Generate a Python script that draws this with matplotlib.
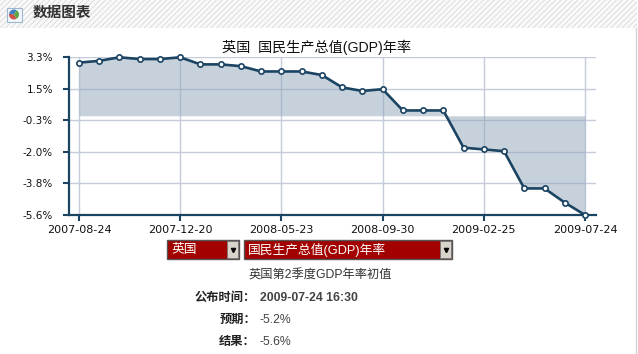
import numpy as np
import matplotlib
matplotlib.use("Agg")
import matplotlib.pyplot as plt
from matplotlib.patches import Rectangle, Wedge

plt.rcParams['font.family'] = ['Liberation Sans', 'Noto Sans CJK SC', 'DejaVu Sans']
plt.rcParams['hatch.linewidth'] = 0.5
plt.rcParams['hatch.color'] = '#d2d2d2'

LINE_COLOR = '#1b4463'
FILL_COLOR = '#8fa5b8'
GRID_COLOR = '#c6cbda'

values = [3.0, 3.1, 3.3, 3.2, 3.2, 3.3, 2.9, 2.9, 2.8, 2.5, 2.5, 2.5, 2.3,
          1.6, 1.4, 1.5, 0.3, 0.3, 0.3, -1.8, -1.9, -2.0, -4.1, -4.1, -4.9, -5.6]
tick_dates = ['2007-08-24', '2007-12-20', '2008-05-23', '2008-09-30', '2009-02-25', '2009-07-24']
tick_idx = [0, 5, 10, 15, 20, 25]
y_labels = ['3.3%', '1.5%', '-0.3%', '-2.0%', '-3.8%', '-5.6%']
y_top = 3.3
y_bottom = -5.6

W, H = 638, 354
fig = plt.figure(figsize=(W / 100, H / 100), dpi=100, facecolor='white')

# overlay in pixel coords, for the page parts around the chart
page = fig.add_axes([0, 0, 1, 1])
page.set_xlim(0, W)
page.set_ylim(H, 0)
page.axis('off')

page.add_patch(Rectangle((0, 0), W - 1, 28, facecolor='#f9f9f9', edgecolor='none'))
page.add_patch(Rectangle((0, 0), W - 1, 28, facecolor='none', edgecolor='#d2d2d2', hatch='//////', lw=0))
page.plot([636, 636], [28, H], color='#d4d4d4', lw=1)

# header icon
page.add_patch(Rectangle((6.5, 7.5), 15, 14, facecolor='#f2f6fb', edgecolor='#9fb8d0', lw=0.8))
icon_parts = [(60, 190, '#d0504a'), (190, 300, '#3f7fc0'), (300, 420, '#5aa845')]
for a, b, col in icon_parts:
    page.add_patch(Wedge((14, 14.5), 5, a, b, facecolor=col, edgecolor='none', transform=page.transData))
page.text(33, 13, '数据图表', fontsize=10.5, fontweight='bold', color='#333333', ha='left', va='center')

page.text(317, 47, '英国  国民生产总值(GDP)年率', fontsize=10.2, color='#111111', ha='center', va='center')

# the two dropdowns
def dropdown(x0, x1, label):
    page.add_patch(Rectangle((x0, 240), x1 - x0, 19, facecolor='#a30000', edgecolor='#555555', lw=1))
    page.add_patch(Rectangle((x1 - 12, 241), 11, 17, facecolor='#d8d4cc', edgecolor='#777777', lw=0.6))
    page.plot([x1 - 6.5], [250], marker='v', ms=3, color='black')
    page.text(x0 + 4, 249.5, label, fontsize=9.2, color='white', ha='left', va='center')

dropdown(167, 239, '英国')
dropdown(244, 452, '国民生产总值(GDP)年率')

page.text(320, 276, '英国第2季度GDP年率初值', fontsize=8.8, color='#333333', ha='center', va='center')
rows = [('公布时间：', '2009-07-24 16:30', 298, 'bold'),
        ('预期：', '-5.2%', 320, 'normal'),
        ('结果：', '-5.6%', 342, 'normal')]
for name, val, y, wt in rows:
    page.text(256, y, name, fontsize=8.8, fontweight='bold', color='#222222', ha='right', va='center')
    page.text(260, y, val, fontsize=8.8, fontweight=wt, color='#444444', ha='left', va='center')

# main chart
x0, x1 = 69, 596
y0, y1 = 57.3, 215
ax = fig.add_axes([x0 / W, 1 - y1 / H, (x1 - x0) / W, (y1 - y0) / H])
ax.patch.set_alpha(0)
x = np.arange(len(values))
ax.set_xlim((69 - 79) / 20.24, (596 - 79) / 20.24)
ax.set_ylim(y_bottom, y_top)

ax.fill_between(x, values, 0, color=FILL_COLOR, alpha=0.5, lw=0, zorder=3)
ax.plot(x, values, color=LINE_COLOR, lw=1.9, marker='o', ms=3.8, mfc='white', mec=LINE_COLOR,
        mew=1.2, clip_on=False, zorder=5)

ax.set_xticks(tick_idx)
ax.set_xticklabels(tick_dates, fontsize=8, family='DejaVu Sans', color='#111111')
ax.set_yticks(np.linspace(y_top, y_bottom, 6))
ax.set_yticklabels(y_labels, fontsize=7.5, family='DejaVu Sans', color='#111111')
ax.tick_params(axis='x', length=4, width=1.5, color=LINE_COLOR, pad=3)
ax.tick_params(axis='y', length=4.5, width=1.5, color=LINE_COLOR, pad=7)
ax.grid(True, color=GRID_COLOR, lw=1, zorder=1)
ax.set_axisbelow(True)

for side in ['top', 'right']:
    ax.spines[side].set_visible(False)
for side in ['left', 'bottom']:
    ax.spines[side].set_color(LINE_COLOR)
    ax.spines[side].set_linewidth(1.6)

fig.savefig('out.png', dpi=100, facecolor='white')
